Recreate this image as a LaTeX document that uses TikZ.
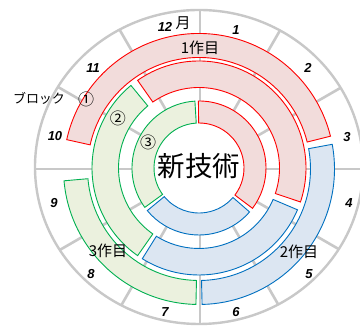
\documentclass[tikz,border=0pt]{standalone}
\usepackage{fontspec}
\newfontfamily\jpfont{Noto Sans CJK JP}
\newfontfamily\numfont{Liberation Sans}
\usetikzlibrary{calc}
\definecolor{spokegray}{HTML}{C8C8C8}
\definecolor{redline}{HTML}{FF0000}
\definecolor{redfill}{HTML}{F2DCDB}
\definecolor{blueline}{HTML}{0070C0}
\definecolor{bluefill}{HTML}{DCE6F2}
\definecolor{greenline}{HTML}{00B050}
\definecolor{greenfill}{HTML}{EBF1DE}
% #1 style, #2 centre, #3 inner r, #4 outer r, #5 start angle, #6 end angle
\newcommand\ringband[6]{%
  \draw[#1, shift={(#2)}] (#5:#4) arc[start angle=#5, end angle=#6, radius=#4]
    -- (#6:#3) arc[start angle=#6, end angle=#5, radius=#3] -- cycle;}
\tikzset{
  redband/.style={draw=redline, fill=redfill, line width=0.9pt, line join=miter},
  blueband/.style={draw=blueline, fill=bluefill, line width=0.9pt, line join=miter},
  greenband/.style={draw=greenline, fill=greenfill, line width=0.9pt, line join=miter},
  spokeline/.style={draw=spokegray, line width=2.6pt},
  month/.style={font=\numfont\bfseries\itshape\fontsize{13}{15}\selectfont, inner sep=0pt},
  jplabel/.style={font=\jpfont\fontsize{15}{17}\selectfont, inner sep=0pt},
  circnum/.style={font=\jpfont\fontsize{16}{18}\selectfont, inner sep=0pt},
}
\begin{document}
\begin{tikzpicture}[x=1pt,y=1pt]
\useasboundingbox (0,0) rectangle (360,328);
\fill[white] (0,0) rectangle (360,328);
\coordinate (S) at (200,159);
\coordinate (C1) at (199,159);
\coordinate (C) at (199,160);
\coordinate (E) at (199,161);
% spokes, clipped to the outer ellipse
\begin{scope}
  \clip (E) ellipse [x radius=164, y radius=157];
  \foreach \a in {0,30,...,330}
    \draw[spokeline] (S) -- ++(\a:200);
\end{scope}
\draw[spokegray, line width=2.4pt] (E) ellipse [x radius=164, y radius=157];
% white centre
\fill[white] (C) circle[radius=45];
% ring 1
\ringband{redband}{C1}{111.5}{135.5}{167.5}{14}
\ringband{blueband}{C1}{111.5}{135.5}{10.5}{-88.7}
\ringband{greenband}{C1}{111.5}{135.5}{-91.3}{-175}
% ring 2
\ringband{redband}{C}{80.5}{107}{125}{-18.5}
\ringband{blueband}{C}{80.5}{107}{-23}{-122}
\ringband{greenband}{C}{80.5}{107}{-125}{-230.5}
% ring 3
\ringband{redband}{C}{45}{67}{90.5}{-37}
\ringband{blueband}{C}{45}{67}{-41}{-140.5}
\ringband{greenband}{C}{45}{67}{-144}{-266.5}
% centre title
\node[font=\jpfont\fontsize{27.5}{30}\selectfont, inner sep=0pt] (title) at (199,162) {新技術};
% crop labels
\node[jplabel] (crop1) at (200,280) {1作目};
\node[jplabel] (crop2) at (299,76) {2作目};
\node[jplabel] (crop3) at (108,77) {3作目};
% block labels
\node[font=\jpfont\fontsize{13}{15}\selectfont, inner sep=0pt] (block) at (39,230) {ブロック};
\node[circnum] (b1) at (86,229) {①};
\node[circnum] (b2) at (118,210) {②};
\node[circnum] (b3) at (148,186) {③};
% months
\node[month] (m12) at (165,301) {12};
\node[jplabel] (mon) at (183,305) {月};
\node[month] (m1) at (236,298) {1};
\node[month] (m2) at (308,260) {2};
\node[month] (m3) at (347,191) {3};
\node[month] (m4) at (349,125) {4};
\node[month] (m5) at (309,54) {5};
\node[month] (m6) at (236,16) {6};
\node[month] (m7) at (165,16) {7};
\node[month] (m8) at (91,54) {8};
\node[month] (m9) at (54,125) {9};
\node[month] (m10) at (55,192) {10};
\node[month] (m11) at (93,260) {11};
\end{tikzpicture}
\end{document}
